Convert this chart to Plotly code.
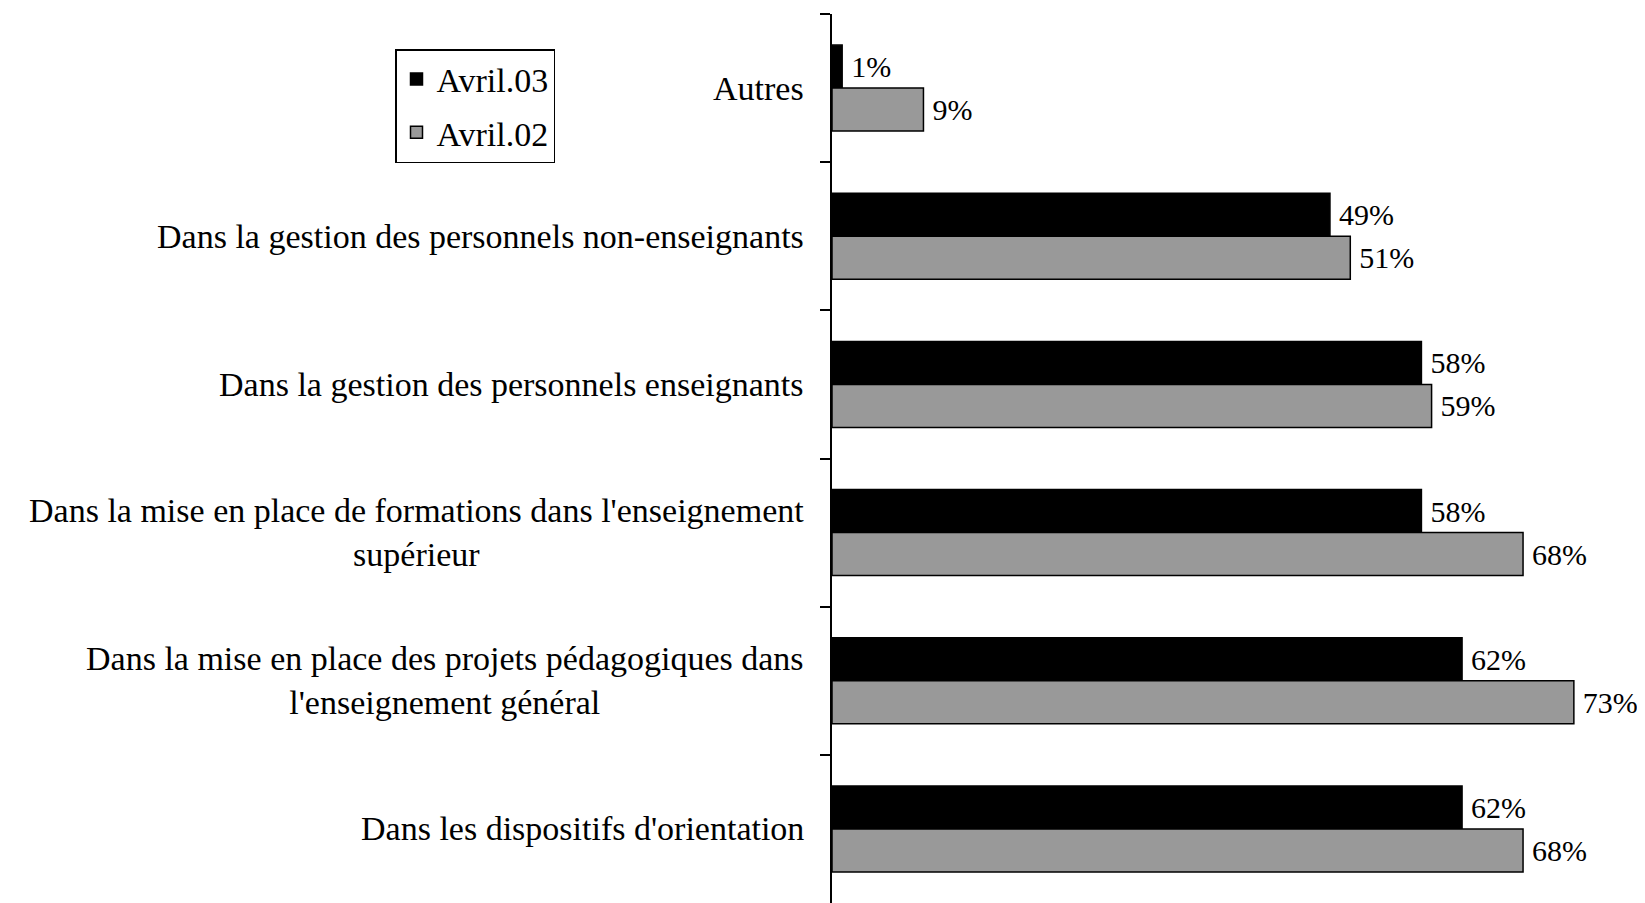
import plotly.graph_objects as go

categories = [
    "Autres",
    "Dans la gestion des personnels non-enseignants",
    "Dans la gestion des personnels enseignants",
    "Dans la mise en place de formations dans l'enseignement<br>supérieur",
    "Dans la mise en place des projets pédagogiques dans<br>l'enseignement général",
    "Dans les dispositifs d'orientation",
]
avril_03 = [1, 49, 58, 58, 62, 62]
avril_02 = [9, 51, 59, 68, 73, 68]

FONT = "'Liberation Serif', 'Times New Roman', serif"

# page body has an 8px margin, so the figure is sized to fill the rest of the window
W, H = 1637, 895

fig = go.Figure()

fig.add_trace(go.Bar(
    y=categories,
    x=avril_03,
    orientation='h',
    name='Avril.03',
    legendgroup='a03',
    marker=dict(color='black', line=dict(color='black', width=1.5)),
    texttemplate='\u2009%{x}%',
    textposition='outside',
    constraintext='none',
    cliponaxis=False,
    textfont=dict(family=FONT, size=30, color='black'),
))

fig.add_trace(go.Bar(
    y=categories,
    x=avril_02,
    orientation='h',
    name='Avril.02',
    legendgroup='a02',
    marker=dict(color='#999999', line=dict(color='black', width=1.5)),
    texttemplate='\u2009%{x}%',
    textposition='outside',
    constraintext='none',
    cliponaxis=False,
    textfont=dict(family=FONT, size=30, color='black'),
))

# category labels as centred annotations (multi-line text centred like the original)
for cat in categories:
    fig.add_annotation(
        x=0, xref='paper', xanchor='right', xshift=-26,
        y=cat, yref='y', yanchor='middle',
        text=cat, showarrow=False, align='center',
        font=dict(family=FONT, size=34, color='black'),
    )

fig.update_layout(
    width=W,
    height=H,
    margin=dict(l=824, r=0, t=6, b=0),
    paper_bgcolor='white',
    plot_bgcolor='white',
    barmode='group',
    bargap=0.42,
    bargroupgap=0,
    font=dict(family=FONT, size=32, color='black'),
    xaxis=dict(range=[0, 80], visible=False),
    yaxis=dict(
        type='category',
        categoryorder='array',
        categoryarray=categories,
        autorange='reversed',
        showticklabels=False,
        tickson='boundaries',
        ticks='outside',
        ticklen=10,
        tickcolor='black',
        tickwidth=1.5,
        showline=True,
        linecolor='black',
        linewidth=1.5,
        showgrid=False,
        zeroline=False,
    ),
    legend=dict(
        xref='container', yref='container',
        x=387 / W, y=1 - 41 / H,
        xanchor='left', yanchor='top',
        bordercolor='black', borderwidth=1.5,
        bgcolor='white',
        font=dict(family=FONT, size=34, color='black'),
        tracegroupgap=6,
        traceorder='grouped',
    ),
    showlegend=True,
)

fig.write_html("out.html")
